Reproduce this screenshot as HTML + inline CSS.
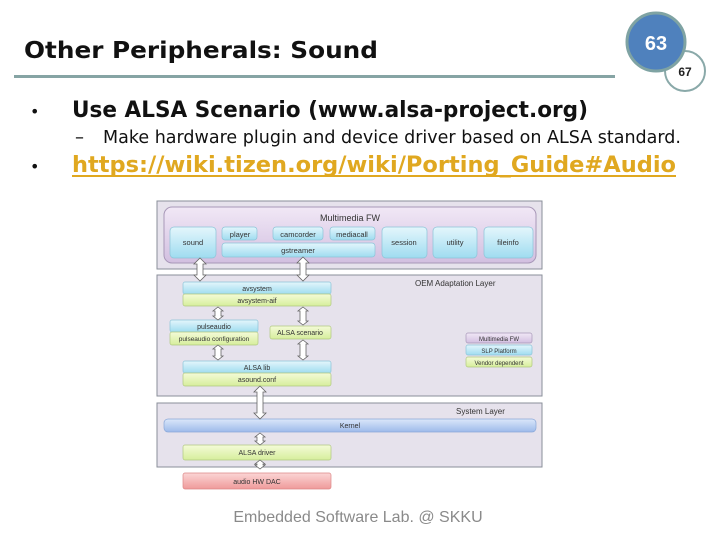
<!DOCTYPE html>
<html><head><style>body{margin:0;background:#fff}svg{display:block}</style></head><body>
<svg width="720" height="540" xmlns="http://www.w3.org/2000/svg" font-family="Liberation Sans, sans-serif">
<defs>
<linearGradient id="bl" x1="0" y1="0" x2="0" y2="1"><stop offset="0" stop-color="#e4f6fc"/><stop offset="1" stop-color="#9fdcf0"/></linearGradient>
<linearGradient id="gr" x1="0" y1="0" x2="0" y2="1"><stop offset="0" stop-color="#f4fbd8"/><stop offset="1" stop-color="#d6ee9c"/></linearGradient>
<linearGradient id="pu" x1="0" y1="0" x2="0" y2="1"><stop offset="0" stop-color="#f1e8f6"/><stop offset="1" stop-color="#d2bfe0"/></linearGradient>
<linearGradient id="kb" x1="0" y1="0" x2="0" y2="1"><stop offset="0" stop-color="#dbe7fa"/><stop offset="1" stop-color="#9dbaea"/></linearGradient>
<linearGradient id="rd" x1="0" y1="0" x2="0" y2="1"><stop offset="0" stop-color="#fbd6d6"/><stop offset="1" stop-color="#ef9a9a"/></linearGradient>
</defs>
<g font-family="DejaVu Sans, sans-serif">
<text x="24" y="58" font-size="23" font-weight="bold" fill="#111" textLength="354" lengthAdjust="spacingAndGlyphs">Other Peripherals: Sound</text>
<text x="30" y="117" font-size="16" fill="#111">•</text>
<text x="72" y="117" font-size="22" font-weight="bold" fill="#111" textLength="516" lengthAdjust="spacingAndGlyphs">Use ALSA Scenario (www.alsa-project.org)</text>
<text x="75" y="143" font-size="18" fill="#111">–</text>
<text x="103" y="143" font-size="18" fill="#111" textLength="578" lengthAdjust="spacingAndGlyphs">Make hardware plugin and device driver based on ALSA standard.</text>
<text x="30" y="172" font-size="16" fill="#111">•</text>
<text x="72" y="172" font-size="22" font-weight="bold" fill="#e0a820" textLength="604" lengthAdjust="spacingAndGlyphs">https://wiki.tizen.org/wiki/Porting_Guide#Audio</text>
</g>
<rect x="72" y="175" width="604" height="2" fill="#e0a820"/>
<rect x="14" y="75" width="601" height="3" fill="#86a4a4"/>
<circle cx="685" cy="71" r="20" fill="#fff" stroke="#8aa9a9" stroke-width="2"/>
<text x="685" y="76" font-size="12" font-weight="bold" text-anchor="middle" fill="#222">67</text>
<circle cx="656" cy="42" r="29" fill="#4f81bd" stroke="#7fa3a3" stroke-width="3"/>
<text x="656" y="50" font-size="20" font-weight="bold" text-anchor="middle" fill="#fff">63</text>

<rect x="157" y="201" width="385" height="291" fill="#fff"/>
<rect x="157" y="201" width="385" height="68" fill="#e6e2ec" stroke="#8a8f9a"/>
<rect x="164" y="207" width="372" height="56" rx="8" fill="url(#pu)" stroke="#a898b8"/>
<text x="350" y="221" font-size="9" text-anchor="middle" fill="#333">Multimedia FW</text>
<g stroke="#8cc4d8" stroke-width="0.7">
<rect x="170" y="227" width="46" height="31" rx="4" fill="url(#bl)"/>
<rect x="222" y="227" width="35" height="13" rx="3" fill="url(#bl)"/>
<rect x="273" y="227" width="50" height="13" rx="3" fill="url(#bl)"/>
<rect x="330" y="227" width="45" height="13" rx="3" fill="url(#bl)"/>
<rect x="222" y="243" width="153" height="14" rx="3" fill="url(#bl)"/>
<rect x="382" y="227" width="45" height="31" rx="4" fill="url(#bl)"/>
<rect x="433" y="227" width="44" height="31" rx="4" fill="url(#bl)"/>
<rect x="484" y="227" width="49" height="31" rx="4" fill="url(#bl)"/>
</g>
<g font-size="7.5" fill="#333" text-anchor="middle">
<text x="193" y="245">sound</text><text x="240" y="237">player</text><text x="298" y="237">camcorder</text><text x="352" y="237">mediacall</text>
<text x="298" y="253">gstreamer</text><text x="404" y="245">session</text><text x="455" y="245">utility</text><text x="508" y="245">fileinfo</text>
</g>
<rect x="157" y="275" width="385" height="121" fill="#e6e2ec" stroke="#8a8f9a"/>
<text x="415" y="286" font-size="8" fill="#333">OEM Adaptation Layer</text>
<rect x="157" y="403" width="385" height="64" fill="#e6e2ec" stroke="#8a8f9a"/>
<text x="456" y="414" font-size="8" fill="#333">System Layer</text>
<g stroke-width="0.7">
<rect x="183" y="282" width="148" height="12" rx="2" fill="url(#bl)" stroke="#8cc4d8"/>
<rect x="183" y="294" width="148" height="12" rx="2" fill="url(#gr)" stroke="#b0c880"/>
<rect x="170" y="320" width="88" height="12" rx="2" fill="url(#bl)" stroke="#8cc4d8"/>
<rect x="170" y="332" width="88" height="13" rx="2" fill="url(#gr)" stroke="#b0c880"/>
<rect x="270" y="326" width="61" height="13" rx="2" fill="url(#gr)" stroke="#b0c880"/>
<rect x="183" y="361" width="148" height="12" rx="2" fill="url(#bl)" stroke="#8cc4d8"/>
<rect x="183" y="373" width="148" height="13" rx="2" fill="url(#gr)" stroke="#b0c880"/>
<rect x="466" y="333" width="66" height="10" rx="2" fill="url(#pu)" stroke="#a898b8"/>
<rect x="466" y="345" width="66" height="10" rx="2" fill="url(#bl)" stroke="#8cc4d8"/>
<rect x="466" y="357" width="66" height="10" rx="2" fill="url(#gr)" stroke="#b0c880"/>
<rect x="164" y="419" width="372" height="13" rx="4" fill="url(#kb)" stroke="#8aa8d8"/>
<rect x="183" y="445" width="148" height="15" rx="2" fill="url(#gr)" stroke="#b0c880"/>
<rect x="183" y="473" width="148" height="16" rx="2" fill="url(#rd)" stroke="#d88"/>
</g>
<g font-size="7" fill="#333" text-anchor="middle">
<text x="257" y="291">avsystem</text><text x="257" y="303">avsystem-aif</text>
<text x="214" y="329">pulseaudio</text><text x="214" y="341" font-size="6.5">pulseaudio configuration</text>
<text x="300" y="335">ALSA scenario</text>
<text x="257" y="370">ALSA lib</text><text x="257" y="382">asound.conf</text>
<text x="499" y="341" font-size="6">Multimedia FW</text><text x="499" y="353" font-size="6">SLP Platform</text><text x="499" y="365" font-size="6">Vendor dependent</text>
<text x="350" y="428">Kernel</text><text x="257" y="455">ALSA driver</text><text x="257" y="484">audio HW DAC</text>
</g>
<g fill="#fff" stroke="#666" stroke-width="0.8">
<path d="M200,258 l6,6 h-3 v11 h3 l-6,6 l-6,-6 h3 v-11 h-3 z"/>
<path d="M303,257 l6,6 h-3 v12 h3 l-6,6 l-6,-6 h3 v-12 h-3 z"/>
<path d="M218,307 l5,4 h-2 v5 h2 l-5,4 l-5,-4 h2 v-5 h-2 z"/>
<path d="M303,307 l5,4 h-2 v10 h2 l-5,4 l-5,-4 h2 v-10 h-2 z"/>
<path d="M218,345 l5,4 h-2 v7 h2 l-5,4 l-5,-4 h2 v-7 h-2 z"/>
<path d="M303,340 l5,4 h-2 v12 h2 l-5,4 l-5,-4 h2 v-12 h-2 z"/>
<path d="M260,386 l6,6 h-3 v21 h3 l-6,6 l-6,-6 h3 v-21 h-3 z"/>
<path d="M260,433 l5,4 h-2 v4 h2 l-5,4 l-5,-4 h2 v-4 h-2 z"/>
<path d="M260,460 l5,4 h-2 v1 h2 l-5,4 l-5,-4 h2 v-1 h-2 z"/>
</g>
<text x="358" y="522" font-size="16" fill="#8a8a8a" text-anchor="middle">Embedded Software Lab. @ SKKU</text>
</svg>
</body></html>
